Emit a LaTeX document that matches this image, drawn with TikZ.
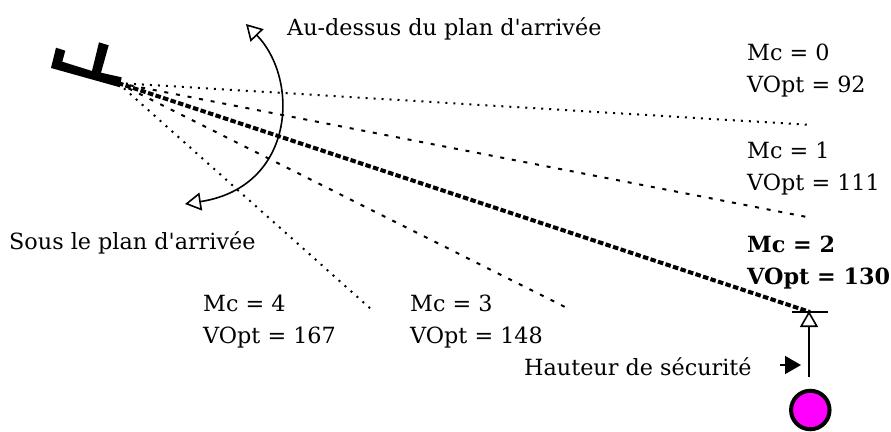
\documentclass[tikz,border=0pt]{standalone}
\usepackage{fontspec}
\setmainfont{DejaVu Serif}
\usetikzlibrary{arrows.meta}
\definecolor{targetfill}{RGB}{255,0,255}

\begin{document}
\begin{tikzpicture}[x=1pt,y=-1pt,
  lbl/.style={inner sep=0pt,align=left,anchor=north west,font=\fontsize{22.3}{32}\selectfont},
  path0/.style={line width=2pt,dash pattern=on 2pt off 6pt},
  path1/.style={line width=2pt,dash pattern=on 4pt off 7.8pt},
  pathbest/.style={line width=4pt,dash pattern=on 5.5pt off 2.4pt},
  hollow/.tip={Triangle[open,fill=white,length=16pt,width=18pt,line width=1.6pt]}]
  \useasboundingbox (0,0) rectangle (891,431);
  % aircraft
  \fill (51,68) -- (56,47.7) -- (65.3,50.7) -- (62.3,61.7) -- (92,71) -- (99,42.3) -- (108.7,45.3) -- (101,72.7)
    -- (121.7,77.3) -- (120,87.3) -- cycle;
  % glide paths
  \coordinate (start) at (118,83);
  \coordinate (mc0) at (812,125);
  \coordinate (mc1) at (812,218);
  \coordinate (mc2) at (810,312);
  \coordinate (mc3) at (567,308);
  \coordinate (mc4) at (372,310);
  \draw[path0] (start) -- (mc0);
  \draw[path1] (start) -- (mc1);
  \draw[pathbest] (start) -- (mc2);
  \draw[path1] (start) -- (mc3);
  \draw[path0] (start) -- (mc4);
  % above and below arrow
  \coordinate (above) at (246,24);
  \coordinate (below) at (185,204);
  \draw[line width=1.6pt,hollow-hollow] (above) .. controls (300,80) and (295,187) .. (below);
  % safety height
  \coordinate (tip) at (809,311);
  \coordinate (foot) at (809,377);
  \coordinate (tickl) at (792,312);
  \coordinate (tickr) at (828,312);
  \coordinate (pointa) at (780,365);
  \coordinate (pointb) at (801,365);
  \draw[line width=1.6pt] (tickl) -- (tickr);
  \draw[line width=1.6pt,-hollow] (foot) -- (tip);
  \draw[line width=1.6pt,-{Triangle[length=16pt,width=18pt]}] (pointa) -- (pointb);
  \node[circle,draw,fill=targetfill,line width=4pt,minimum size=38.5pt,inner sep=0pt] (target) at (810.3,410) {};
  % labels
  \node[lbl] (lblabove) at (287,17) {Au-dessus du plan d\textquotesingle arrivée};
  \node[lbl] (lblbelow) at (9,231) {Sous le plan d\textquotesingle arrivée};
  \node[lbl] (lblzero) at (747,43.5) {Mc = 0\\VOpt = 92};
  \node[lbl] (lblone) at (747,141.5) {Mc = 1\\VOpt = 111};
  \node[lbl,font=\fontsize{22.3}{32}\selectfont\bfseries] (lbltwo) at (747,236) {Mc = 2\\VOpt = 130};
  \node[lbl] (lblthree) at (410,295) {Mc = 3\\VOpt = 148};
  \node[lbl] (lblfour) at (203,295) {Mc = 4\\VOpt = 167};
  \node[lbl] (lblsafe) at (524,357) {Hauteur de sécurité};
\end{tikzpicture}
\end{document}
